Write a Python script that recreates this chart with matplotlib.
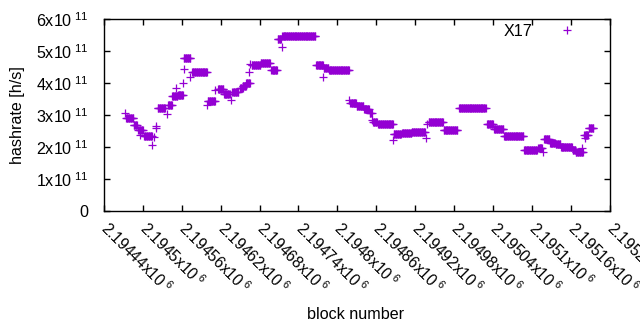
import numpy as np
import matplotlib
matplotlib.use("Agg")
import matplotlib.pyplot as plt

plt.rcParams['font.family'] = ['Liberation Sans', 'DejaVu Sans']
plt.rcParams['mathtext.fontset'] = 'custom'
plt.rcParams['mathtext.rm'] = 'Liberation Sans'
plt.rcParams['mathtext.it'] = 'Liberation Sans'
plt.rcParams['mathtext.default'] = 'regular'

BASE = 2194440
# runs of constant estimated hashrate: start block offset, end block offset, value (1e11 h/s)
run_start = [34, 46, 53, 62, 83, 99, 105, 114, 123, 136, 160, 176, 185, 198, 210, 214, 219,
             228, 242, 258, 268, 275, 327, 339, 347, 380, 390, 401, 410, 415, 423, 447, 460,
             475, 501, 524, 548, 591, 602, 617, 648, 670, 679, 688, 697, 705, 723, 728, 741, 748]
run_end = [45, 51, 60, 74, 94, 105, 113, 122, 133, 159, 171, 184, 194, 207, 214, 219, 225,
           241, 256, 267, 273, 326, 338, 346, 378, 389, 400, 409, 413, 421, 446, 458, 474,
           495, 523, 545, 589, 600, 616, 647, 668, 676, 687, 696, 704, 722, 727, 739, 747, 755]
run_value = [2.90, 2.68, 2.52, 2.34, 3.21, 3.30, 3.58, 3.64, 4.78, 4.33, 3.45, 3.80, 3.66, 3.71,
             3.85, 3.92, 3.99, 4.56, 4.63, 4.40, 5.37, 5.48, 4.56, 4.48, 4.41, 3.38, 3.29, 3.19,
             3.06, 2.78, 2.71, 2.40, 2.43, 2.46, 2.77, 2.53, 3.21, 2.71, 2.55, 2.33, 1.90, 1.97,
             2.24, 2.11, 2.08, 1.99, 1.90, 1.83, 2.37, 2.58]
# isolated points
iso_block = [32, 56, 74, 77, 80, 81, 97, 111, 122, 123, 133, 159, 171, 196, 224, 225, 274,
             338, 378, 413, 446, 497, 498, 677, 738, 742]
iso_value = [3.07, 2.38, 2.06, 2.30, 2.66, 2.58, 3.03, 3.83, 3.99, 4.44, 4.20, 3.31, 3.78,
             3.47, 4.35, 4.60, 5.13, 4.18, 3.47, 2.84, 2.22, 2.27, 2.71, 1.85, 1.96, 2.27]

xtick_labels = ["2.19444", "2.1945", "2.19456", "2.19462", "2.19468", "2.19474", "2.1948",
                "2.19486", "2.19492", "2.19498", "2.19504", "2.1951", "2.19516", "2.19522"]
ytick_values = [0, 1, 2, 3, 4, 5, 6]

xs, ys = [], []
for s, e, v in zip(run_start, run_end, run_value):
    b = np.arange(s, e + 1)
    xs.append(BASE + b)
    ys.append(np.full(b.shape, v * 1e11))
xs.append(BASE + np.array(iso_block))
ys.append(np.array(iso_value) * 1e11)
x = np.concatenate(xs)
y = np.concatenate(ys)

FS = 11.6
fig = plt.figure(figsize=(6.4, 3.3), dpi=100)
ax = fig.add_axes([104/640, 119/330, 505.5/640, 192/330])
color = '#9400D3'
ax.plot(x, y, linestyle='none', marker='+', markersize=5.3, markeredgewidth=0.9,
        color=color, label='X17')

xt = [float(t) * 1e6 for t in xtick_labels]
ax.set_xlim(xt[0], xt[-1])
ax.set_ylim(0, 6e11)
ax.set_xticks(xt)
ax.set_xticklabels([t + 'x10$^{\\ 6}$' for t in xtick_labels], fontsize=11.2)
ax.set_yticks([v * 1e11 for v in ytick_values])
ax.set_yticklabels(['0' if v == 0 else f'{v}x10$^{{\\ 11}}$' for v in ytick_values], fontsize=FS)
ax.tick_params(direction='in', length=4, width=1, top=True, right=True, color='black')
ax.tick_params(axis='y', pad=11)
ax.tick_params(axis='x', pad=10)
plt.setp(ax.get_xticklabels(), rotation=-45, ha='left', va='center', rotation_mode='anchor')
for sp in ax.spines.values():
    sp.set_linewidth(1.0)

ax.set_ylabel('hashrate [h/s]', fontsize=FS)
ax.set_xlabel('block number', fontsize=FS)
ax.xaxis.set_label_coords((356-104)/505.5, (211-307)/192)
ax.yaxis.set_label_coords((25-104)/505.5, 0.5)

ax.legend(loc='upper right', bbox_to_anchor=((586-104)/505.5, (211-24)/192), frameon=False,
          markerfirst=False, handletextpad=1.0, handlelength=2.3, borderaxespad=0,
          borderpad=0, fontsize=FS)

fig.savefig('out.png', dpi=100)
